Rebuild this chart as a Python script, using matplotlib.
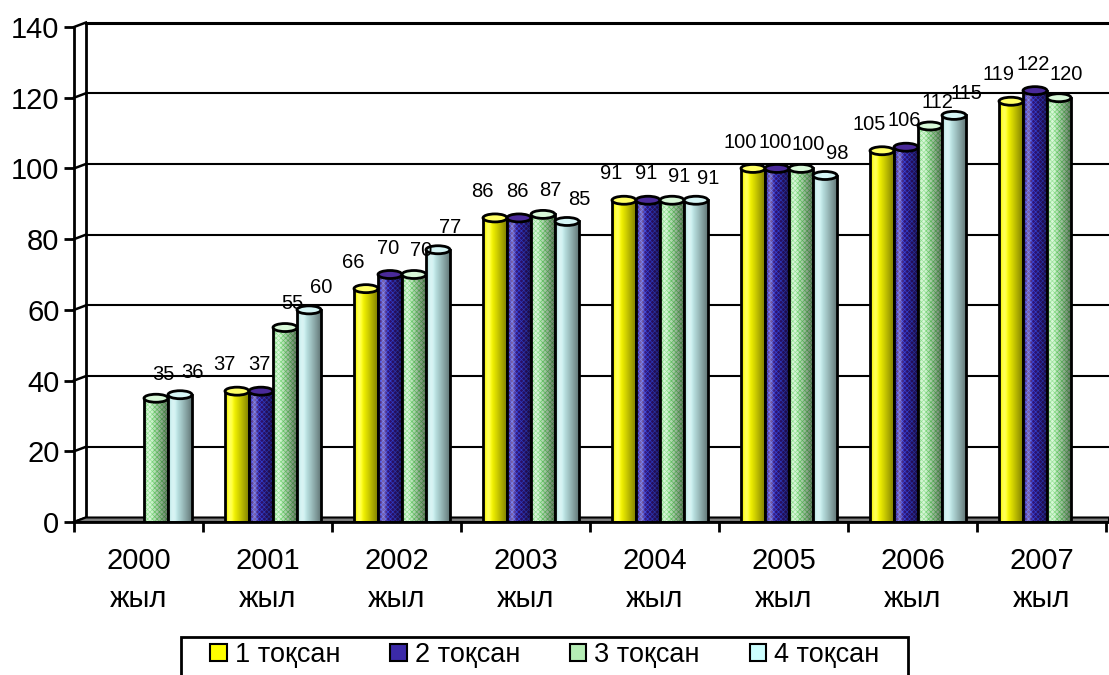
import numpy as np
import matplotlib
matplotlib.use("Agg")
import matplotlib.pyplot as plt
from matplotlib.patches import Rectangle, Ellipse, Polygon, Patch

plt.rcParams['font.family'] = ['Liberation Sans', 'DejaVu Sans']
plt.rcParams['hatch.linewidth'] = 0.5

years = ['2000', '2001', '2002', '2003', '2004', '2005', '2006', '2007']
year_word = 'жыл'
q1 = [np.nan, 37, 66, 86, 91, 100, 105, 119]
q2 = [np.nan, 37, 70, 86, 91, 100, 106, 122]
q3 = [35, 55, 70, 87, 91, 100, 112, 120]
q4 = [36, 60, 77, 85, 91, 98, 115, np.nan]
series_names = ['1 тоқсан', '2 тоқсан', '3 тоқсан', '4 тоқсан']
series = [q1, q2, q3, q4]

colors = ['#FFFF00', '#35157F', '#C6F2C6', '#C4EEEE']
hatch_colors = [None, '#3A4AF0', '#6ED66E', None]
top_colors = ['#FFFF66', '#4A2A9A', '#D8F8D8', '#D6F6F6']
legend_colors = ['#FFFF00', '#3B2AA8', '#B5EDB5', '#CCFFFF']
label_dx = [-9, -1, 5, 9]    # points, Excel spreads the labels a little
label_dy = [19, 19, 17, 16]

# geometry (pixel based)
W, H = 1109, 675
px_x = 129.0            # pixels per category
px_y = 495.0 / 140      # pixels per unit
ddx = 12 / px_x         # depth offset of back wall
ddy = 4.5 / px_y
bar_w = 24 / px_x
grp_off = 22 / px_x

fig = plt.figure(figsize=(W / 100, H / 100), dpi=100)
ax = fig.add_axes([74 / W, 1 - 522 / H, 1035 / W, 495 / H])
xmax = -0.5 + 1035 / px_x
ax.set_xlim(-0.5, xmax)
ax.set_ylim(0, 140)

# back wall gridlines and left edge
for v in range(20, 141, 20):
    ax.plot([-0.5 + ddx, xmax], [v + ddy] * 2, color='black',
            lw=2.2 if v == 140 else 1.5, clip_on=False, zorder=1)
for v in range(0, 141, 20):
    ax.plot([-0.5, -0.5 + ddx], [v, v + ddy], color='black', lw=1.8,
            clip_on=False, zorder=1)
ax.plot([-0.5 + ddx] * 2, [ddy, 140 + ddy], color='black', lw=2,
        clip_on=False, zorder=1)

# floor
floor = Polygon([(-0.5, 0), (-0.5 + ddx, ddy), (xmax, ddy), (xmax, 0)],
                closed=True, facecolor='#808080', edgecolor='black', lw=1.5,
                clip_on=False, zorder=2)
ax.add_patch(floor)

# cylinder shading profiles
t = np.linspace(0, 1, 64)
dark = np.zeros((1, 64, 4))
dark[..., 3] = 0.5 * np.clip((t - 0.3) / 0.7, 0, 1) ** 1.1 + 0.15 * np.clip((0.12 - t) / 0.12, 0, 1)
light = np.ones((1, 64, 4))
light[..., 3] = 0.35 * np.exp(-((t - 0.22) / 0.12) ** 2)

x = np.arange(len(years))
for i, vals in enumerate(series):
    z = 3 + i
    pos = x - 0.5 + grp_off + i * bar_w
    bars = ax.bar(pos, vals, width=bar_w, align='edge', color=colors[i],
                  edgecolor='none', zorder=z)
    for b, v in zip(bars, vals):
        if np.isnan(v):
            continue
        x0, w, h = b.get_x(), b.get_width(), b.get_height()
        if hatch_colors[i]:
            hp = Rectangle((x0, 0), w, h, facecolor='none', edgecolor=hatch_colors[i],
                           lw=0, hatch='xxxxxxx', zorder=z + 0.1)
            ax.add_patch(hp)
        for img in (dark, light):
            im = ax.imshow(img, extent=(x0, x0 + w, 0, h), aspect='auto',
                           zorder=z + 0.2, interpolation='bilinear')
            im.set_clip_path(b)
        ax.add_patch(Rectangle((x0, 0), w, h, facecolor='none', edgecolor='black',
                               lw=2, zorder=z + 0.3))
        ax.add_patch(Ellipse((x0 + w / 2, h), w, 8 / px_y, facecolor=top_colors[i],
                             edgecolor='black', lw=2, zorder=z + 0.4))
        ax.annotate(f'{v:.0f}', (x0 + w / 2, h), xytext=(label_dx[i], label_dy[i]),
                    textcoords='offset points', ha='center', va='center',
                    fontsize=14.5, zorder=20)
ax.set_xlim(-0.5, xmax)
ax.set_ylim(0, 140)

# axes styling
for s in ['top', 'right']:
    ax.spines[s].set_visible(False)
ax.spines['left'].set_linewidth(2)
ax.spines['bottom'].set_linewidth(2)
ax.spines['left'].set_zorder(10)
ax.spines['bottom'].set_zorder(10)
ax.set_yticks(range(0, 141, 20))
ax.tick_params(axis='y', length=7.5, width=2, labelsize=21, pad=3)
ax.set_xticks(np.arange(len(years) + 1) - 0.5)
ax.set_xticklabels([])
ax.set_xticks(x, [f'{y}\n{year_word}' for y in years], minor=True)
ax.tick_params(axis='x', which='major', length=7.5, width=2, direction='out')
ax.tick_params(axis='x', which='minor', length=0, labelsize=21, pad=18)
for lab in ax.get_xticklabels(minor=True):
    lab.set_linespacing(1.45)

handles = []
for i, name in enumerate(series_names):
    handles.append(Patch(facecolor=legend_colors[i], edgecolor='black', lw=1.5,
                         label=name))
leg = fig.legend(handles=handles, loc='center', ncol=4,
                 bbox_to_anchor=(545 / W, 1 - 655 / H), fontsize=19.5,
                 frameon=False, handlelength=0.6, handleheight=0.6,
                 handletextpad=0.3, columnspacing=1.85, borderpad=0,
                 borderaxespad=0)
# legend box, cut by the bottom edge as in the original
fig.patches.append(Rectangle((181 / W, -0.02), (908 - 181) / W, 0.02 + (675 - 637) / H,
                             transform=fig.transFigure, facecolor='none',
                             edgecolor='black', lw=2))

fig.savefig('out.png', dpi=100)
